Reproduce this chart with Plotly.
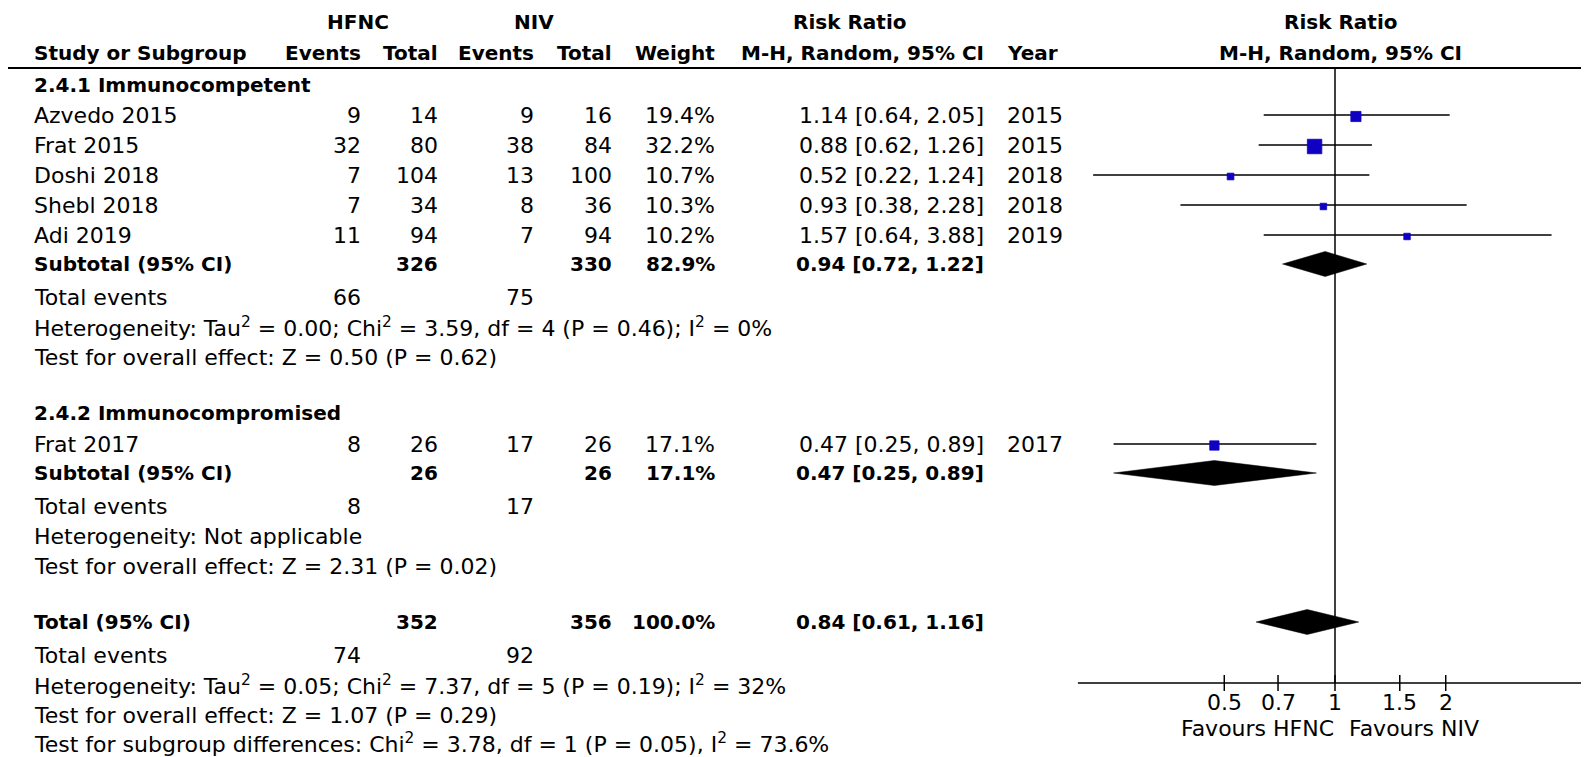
import math
import plotly.graph_objects as go

# ---------------- data ----------------
subgroups = ["2.4.1 Immunocompetent", "2.4.2 Immunocompromised"]
studies = ["Azvedo 2015", "Frat 2015", "Doshi 2018", "Shebl 2018", "Adi 2019", "Frat 2017"]
study_group = [0, 0, 0, 0, 0, 1]
hfnc_events = [9, 32, 7, 7, 11, 8]
hfnc_total = [14, 80, 104, 34, 94, 26]
niv_events = [9, 38, 13, 8, 7, 17]
niv_total = [16, 84, 100, 36, 94, 26]
weights = [19.4, 32.2, 10.7, 10.3, 10.2, 17.1]
rr = [1.14, 0.88, 0.52, 0.93, 1.57, 0.47]
rr_lo = [0.64, 0.62, 0.22, 0.38, 0.64, 0.25]
rr_hi = [2.05, 1.26, 1.24, 2.28, 3.88, 0.89]
years = [2015, 2015, 2018, 2018, 2019, 2017]

sub_hfnc_total = [326, 26]
sub_niv_total = [330, 26]
sub_weight = [82.9, 17.1]
sub_rr = [0.94, 0.47]
sub_lo = [0.72, 0.25]
sub_hi = [1.22, 0.89]
sub_hfnc_events = [66, 8]
sub_niv_events = [75, 17]
sub_het = ["Heterogeneity: Tau<sup>2</sup> = 0.00; Chi<sup>2</sup> = 3.59, df = 4 (P = 0.46); I<sup>2</sup> = 0%",
           "Heterogeneity: Not applicable"]
sub_test = ["Test for overall effect: Z = 0.50 (P = 0.62)",
            "Test for overall effect: Z = 2.31 (P = 0.02)"]

tot_hfnc_total = 352
tot_niv_total = 356
tot_weight = 100.0
tot_rr = 0.84
tot_lo = 0.61
tot_hi = 1.16
tot_hfnc_events = 74
tot_niv_events = 92
tot_het = "Heterogeneity: Tau<sup>2</sup> = 0.05; Chi<sup>2</sup> = 7.37, df = 5 (P = 0.19); I<sup>2</sup> = 32%"
tot_test = "Test for overall effect: Z = 1.07 (P = 0.29)"
tot_subdiff = "Test for subgroup differences: Chi<sup>2</sup> = 3.78, df = 1 (P = 0.05), I<sup>2</sup> = 73.6%"

tick_vals = [0.5, 0.7, 1, 1.5, 2]
tick_labels = ["0.5", "0.7", "1", "1.5", "2"]
favours_left = "Favours HFNC"
favours_right = "Favours NIV"

# ---------------- layout constants ----------------
PAGE_W, PAGE_H = 1589, 757
OFF = 8                      # default body margin of the html page
W, H = PAGE_W - OFF, PAGE_H - OFF
FONT = "DejaVu Sans"
FS = 22                      # normal text
FSB = 20                     # bold text
BLUE = "#1000c4"
X_NAME = 33
X_HE, X_HT, X_NE, X_NT, X_W, X_RR, X_YR = 362, 439, 535, 613, 716, 985, 1006
PX_ONE = 1335.0          # page pixel of RR = 1
PX_DEC = 367.8           # pixels per decade
AXIS_Y = 683
RULE_Y = 69
DIAMOND_H = 12.5

g_title_y = [85, 413]
g_first_study_y = [115, 444]
ROW = 30

ann = []


def txt(x, y, s, anchor="left", bold=False, xref="x", xshift=0):
    ann.append(dict(x=x, y=y, xref=xref, yref="y", text=("<b>%s</b>" % s) if bold else s,
                    showarrow=False, xanchor=anchor, yanchor="middle", xshift=xshift,
                    borderpad=0,
                    font=dict(family=FONT, size=FSB if bold else FS, color="black")))


# headers
txt(358, 22, "HFNC", "center", True)
txt(534, 22, "NIV", "center", True)
txt(849, 22, "Risk Ratio", "center", True)
txt(1340, 22, "Risk Ratio", "center", True)
txt(X_NAME, 53, "Study or Subgroup", "left", True)
txt(X_HE, 53, "Events", "right", True)
txt(X_HT, 53, "Total", "right", True)
txt(X_NE, 53, "Events", "right", True)
txt(X_NT, 53, "Total", "right", True)
txt(X_W, 53, "Weight", "right", True)
txt(X_RR, 53, "M-H, Random, 95% CI", "right", True)
txt(X_YR, 53, "Year", "left", True)
txt(1340, 53, "M-H, Random, 95% CI", "center", True)

fmt_ci = lambda e, l, h: "%.2f [%.2f, %.2f]" % (e, l, h)

study_y = [0.0] * len(studies)
sub_y = []
for g, name in enumerate(subgroups):
    txt(X_NAME, g_title_y[g], name, "left", True)
    idx = [i for i, sg in enumerate(study_group) if sg == g]
    y = g_first_study_y[g]
    for k, i in enumerate(idx):
        yy = y + k * ROW
        study_y[i] = yy
        txt(X_NAME, yy, studies[i])
        txt(X_HE, yy, str(hfnc_events[i]), "right")
        txt(X_HT, yy, str(hfnc_total[i]), "right")
        txt(X_NE, yy, str(niv_events[i]), "right")
        txt(X_NT, yy, str(niv_total[i]), "right")
        txt(X_W, yy, "%.1f%%" % weights[i], "right")
        txt(X_RR, yy, fmt_ci(rr[i], rr_lo[i], rr_hi[i]), "right")
        txt(X_YR, yy, str(years[i]), "left")
    ys = y + (len(idx) - 1) * ROW + 29
    sub_y.append(ys)
    txt(X_NAME, ys, "Subtotal (95% CI)", "left", True)
    txt(X_HT, ys, str(sub_hfnc_total[g]), "right", True)
    txt(X_NT, ys, str(sub_niv_total[g]), "right", True)
    txt(X_W, ys, "%.1f%%" % sub_weight[g], "right", True)
    txt(X_RR, ys, fmt_ci(sub_rr[g], sub_lo[g], sub_hi[g]), "right", True)
    ye = ys + 33
    txt(X_NAME, ye, "Total events")
    txt(X_HE, ye, str(sub_hfnc_events[g]), "right")
    txt(X_NE, ye, str(sub_niv_events[g]), "right")
    txt(X_NAME, ye + ROW, sub_het[g])
    txt(X_NAME, ye + 2 * ROW, sub_test[g])

ty = 622
txt(X_NAME, ty, "Total (95% CI)", "left", True)
txt(X_HT, ty, str(tot_hfnc_total), "right", True)
txt(X_NT, ty, str(tot_niv_total), "right", True)
txt(X_W, ty, "%.1f%%" % tot_weight, "right", True)
txt(X_RR, ty, fmt_ci(tot_rr, tot_lo, tot_hi), "right", True)
txt(X_NAME, ty + 33, "Total events")
txt(X_HE, ty + 33, str(tot_hfnc_events), "right")
txt(X_NE, ty + 33, str(tot_niv_events), "right")
txt(X_NAME, ty + 63, tot_het)
txt(X_NAME, ty + 93, tot_test)
txt(X_NAME, ty + 121, tot_subdiff)

fig = go.Figure()

# CI lines
cx, cy = [], []
for i in range(len(studies)):
    cx += [rr_lo[i], rr_hi[i], None]
    cy += [study_y[i], study_y[i], None]
fig.add_trace(go.Scatter(x=cx, y=cy, xaxis="x2", yaxis="y", mode="lines",
                         line=dict(color="black", width=1.5), hoverinfo="skip"))

# squares sized by weight
sizes = [14.5 * (w / max(weights)) ** 0.7 for w in weights]
fig.add_trace(go.Scatter(x=rr, y=[v + 1.5 for v in study_y], xaxis="x2", yaxis="y", mode="markers",
                         marker=dict(symbol="square", size=sizes, color=BLUE, opacity=1,
                                     line=dict(width=0.8, color=BLUE))))


def diamond(e, l, h, yc):
    fig.add_trace(go.Scatter(x=[l, e, h, e, l], y=[yc, yc - DIAMOND_H, yc, yc + DIAMOND_H, yc],
                             xaxis="x2", yaxis="y", mode="lines", fill="toself",
                             fillcolor="black", line=dict(color="black", width=0.5),
                             hoverinfo="skip"))


for g in range(len(subgroups)):
    diamond(sub_rr[g], sub_lo[g], sub_hi[g], sub_y[g])
diamond(tot_rr, tot_lo, tot_hi, ty)

# line of no effect
fig.add_trace(go.Scatter(x=[1, 1], y=[RULE_Y, AXIS_Y], xaxis="x2", yaxis="y", mode="lines",
                         line=dict(color="black", width=1.5), hoverinfo="skip"))
# bottom axis
fig.add_trace(go.Scatter(x=[0.2, 10], y=[AXIS_Y, AXIS_Y], xaxis="x2", yaxis="y", mode="lines",
                         line=dict(color="black", width=1.5), hoverinfo="skip"))
tx, tyy = [], []
for v in tick_vals:
    tx += [v, v, None]
    tyy += [AXIS_Y - 8, AXIS_Y + 8, None]
fig.add_trace(go.Scatter(x=tx, y=tyy, xaxis="x2", yaxis="y", mode="lines",
                         line=dict(color="black", width=1.5), hoverinfo="skip"))
for v, lab in zip(tick_vals, tick_labels):
    txt(math.log10(v), 702, lab, "center", xref="x2")
txt(0, 728, favours_left, "right", xref="x2", xshift=0)
txt(0, 728, favours_right, "left", xref="x2", xshift=13)

fig.update_layout(
    width=W, height=H, margin=dict(l=0, r=0, t=0, b=0),
    paper_bgcolor="white", plot_bgcolor="white", showlegend=False,
    xaxis=dict(range=[OFF, PAGE_W], visible=False, domain=[0, 1], fixedrange=True),
    xaxis2=dict(type="log", range=[(OFF - PX_ONE) / PX_DEC, (PAGE_W - PX_ONE) / PX_DEC],
                overlaying="x", anchor="y", visible=False, domain=[0, 1]),
    yaxis=dict(range=[PAGE_H, OFF], visible=False, domain=[0, 1], fixedrange=True),
    annotations=ann,
    shapes=[dict(type="line", xref="paper", yref="y", x0=0, x1=1, y0=RULE_Y - 1, y1=RULE_Y - 1,
                 line=dict(color="black", width=2))],
)

fig.write_html("out.html")
